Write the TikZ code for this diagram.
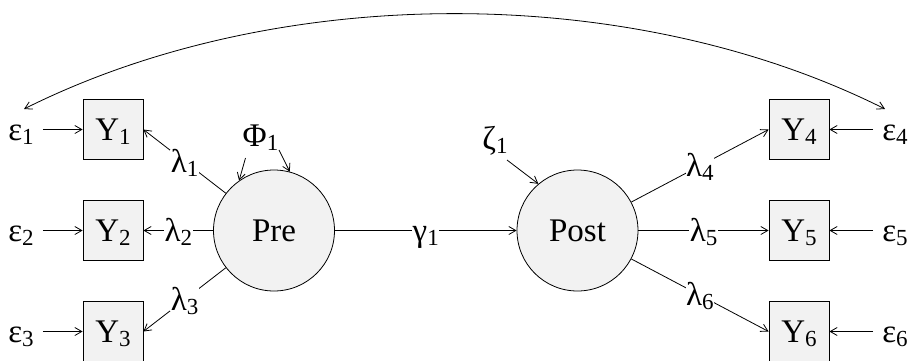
\documentclass[tikz,border=0pt]{standalone}
\usepackage{fontspec}
\setmainfont{Liberation Serif}
\newfontfamily\tms{Liberation Serif}
\usetikzlibrary{arrows.meta}
\definecolor{boxfill}{HTML}{F2F2F2}
\newcommand\lsub[1]{\raisebox{-4pt}{\fontsize{23}{23}\selectfont #1}}
\begin{document}
\begin{tikzpicture}[x=1pt,y=-1pt,
  every node/.style={font=\tms\fontsize{33}{36}\selectfont, text height=21.5pt, text depth=0pt},
  obs/.style={draw, fill=boxfill, minimum size=60pt, inner sep=0pt, line width=0.8pt},
  lat/.style={draw, circle, fill=boxfill, minimum size=121pt, inner sep=0pt, line width=0.8pt},
  err/.style={inner xsep=9pt, inner ysep=2pt},
  lab/.style={fill=white, inner sep=0.5pt},
  arr/.style={line width=0.8pt, -{Straight Barb[length=7pt,width=8pt]}},
  darr/.style={line width=0.8pt, {Straight Barb[length=7pt,width=8pt]}-{Straight Barb[length=7pt,width=8pt]}},
  ]
\useasboundingbox (0,0) rectangle (910,360);

\node[obs] (Y1) at (113,129.5) {Y\lsub{1}};
\node[obs] (Y2) at (113,230.5) {Y\lsub{2}};
\node[obs] (Y3) at (113,331.5) {Y\lsub{3}};
\node[obs] (Y4) at (799,129.5) {Y\lsub{4}};
\node[obs] (Y5) at (799,230.5) {Y\lsub{5}};
\node[obs] (Y6) at (799,331.5) {Y\lsub{6}};

\node[lat] (Pre) at (274,230.5) {Pre};
\node[lat] (Post) at (577.5,230.5) {Post};

\node[err] (e1) at (21,129.5) {ε\lsub{1}};
\node[err] (e2) at (21,230.5) {ε\lsub{2}};
\node[err] (e3) at (21,331.5) {ε\lsub{3}};
\node[err] (e4) at (895,129.5) {ε\lsub{4}};
\node[err] (e5) at (895,230.5) {ε\lsub{5}};
\node[err] (e6) at (895,331.5) {ε\lsub{6}};

\node (phi) at (260.5,135.5) {Φ\lsub{1}};
\node (zeta) at (495,139) {ζ\lsub{1}};

\draw[arr] (e1) -- (Y1);
\draw[arr] (e2) -- (Y2);
\draw[arr] (e3) -- (Y3);
\draw[arr] (e4) -- (Y4);
\draw[arr] (e5) -- (Y5);
\draw[arr] (e6) -- (Y6);

\draw[arr] (Pre) -- node[lab]{λ\lsub{1}} (Y1.east);
\draw[arr] (Pre) -- node[lab]{λ\lsub{2}} (Y2);
\draw[arr] (Pre) -- node[lab]{λ\lsub{3}} (Y3.east);
\draw[arr] (Pre) -- node[lab]{γ\lsub{1}} (Post);
\draw[arr] (Post) -- node[lab]{λ\lsub{4}} (Y4.west);
\draw[arr] (Post) -- node[lab]{λ\lsub{5}} (Y5);
\draw[arr] (Post) -- node[lab]{λ\lsub{6}} (Y6.west);

\draw[arr] ([shift={(-15,22.5)}]phi.center) -- (Pre.125);
\draw[arr] ([shift={(18.5,14.5)}]phi.center) -- (Pre.75);
\draw[arr] ([shift={(12,21)}]zeta.center) -- (Post.130);

\draw[darr] ([shift={(3,-20.5)}]e1.center) .. controls +(254,-127) and +(-254,-127) .. ([shift={(-10,-20.5)}]e4.center);
\end{tikzpicture}
\end{document}
